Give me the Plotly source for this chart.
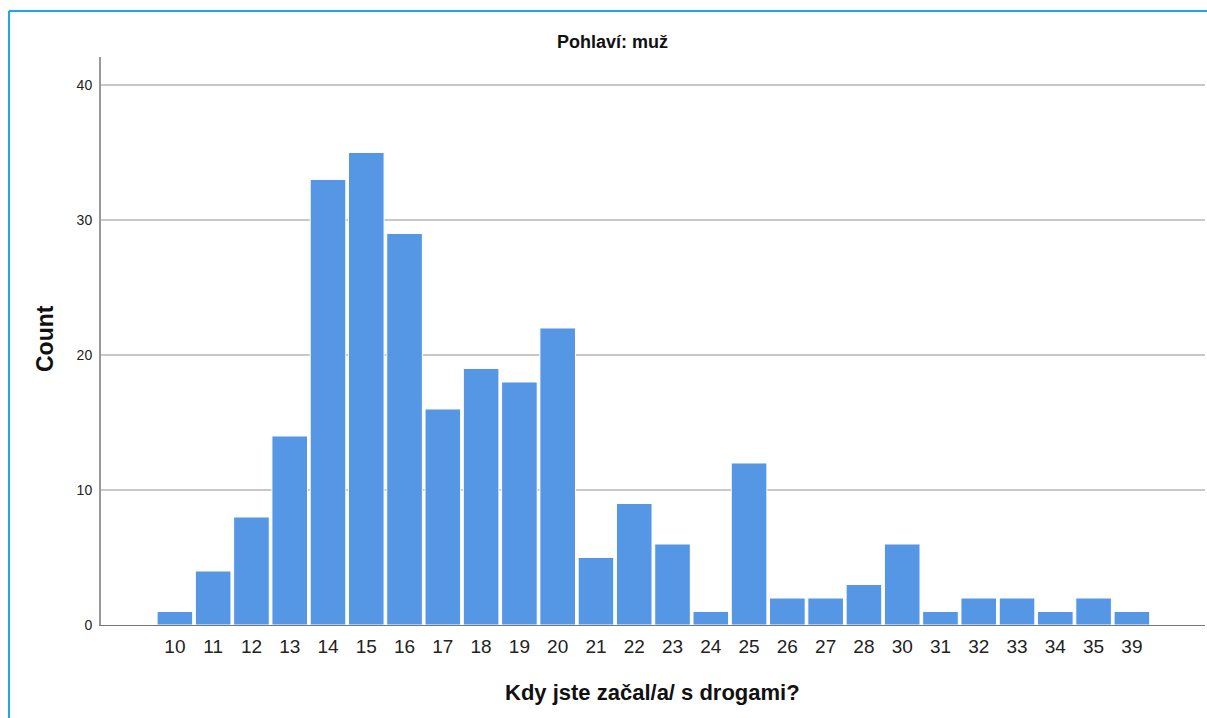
import plotly.graph_objects as go

categories = ["10", "11", "12", "13", "14", "15", "16", "17", "18", "19", "20",
              "21", "22", "23", "24", "25", "26", "27", "28", "30", "31", "32",
              "33", "34", "35", "39"]
counts = [1, 4, 8, 14, 33, 35, 29, 16, 19, 18, 22, 5, 9, 6, 1, 12, 2, 2, 3, 6,
          1, 2, 2, 1, 2, 1]
y_ticks = [0, 10, 20, 30, 40]

W, H = 1207, 718
L, R, T, B = 101, 1205, 57, 625
PW, PH = R - L, B - T


def px_x(x):
    return (x - L) / PW


def px_y(y):
    return (B - y) / PH


fig = go.Figure(go.Bar(
    x=categories, y=counts,
    marker=dict(color="#5596E5", line=dict(color="white", width=1)),
))

n = len(categories)
fig.update_layout(
    width=W, height=H,
    margin=dict(l=L, r=W - R, t=T, b=H - B),
    paper_bgcolor="white", plot_bgcolor="white",
    bargap=0.07,
    showlegend=False,
    font=dict(family="Liberation Sans, Arial, sans-serif", color="#222"),
    xaxis=dict(type="category", range=[-1.93, n - 1 + 1.91],
               showgrid=False, showline=True, linecolor="#777", linewidth=1,
               ticks="", tickfont=dict(size=19, color="#222"),
               ticklabelstandoff=4),
    yaxis=dict(range=[0, 42.07], tickvals=y_ticks, showgrid=True,
               gridcolor="#c8c8c8", gridwidth=1.5, zeroline=False,
               showline=True, linecolor="#999", linewidth=2, ticks="",
               tickfont=dict(size=14, color="#222"), ticklabelstandoff=4),
    annotations=[
        dict(text="<b>Pohlaví: muž</b>", xref="paper", yref="paper",
             x=px_x(612), y=px_y(42), xanchor="center", yanchor="middle",
             showarrow=False, font=dict(size=18, color="#111")),
        dict(text="<b>Kdy jste začal/a/ s drogami?</b>", xref="paper", yref="paper",
             x=px_x(652), y=px_y(692), xanchor="center", yanchor="middle",
             showarrow=False, font=dict(size=22, color="#111")),
        dict(text="<b>Count</b>", xref="paper", yref="paper", textangle=-90,
             x=px_x(45), y=px_y(339), xanchor="center", yanchor="middle",
             showarrow=False, font=dict(size=23, color="#111")),
    ],
    shapes=[
        dict(type="line", xref="paper", yref="paper",
             x0=px_x(9), x1=px_x(1215), y0=px_y(11), y1=px_y(11),
             line=dict(color="#19A9EC", width=2)),
        dict(type="line", xref="paper", yref="paper",
             x0=px_x(9), x1=px_x(9), y0=px_y(11), y1=px_y(730),
             line=dict(color="#19A9EC", width=2)),
    ],
)

fig.write_html("out.html", config={"displayModeBar": False},
               post_script="document.body.style.margin='0';document.body.style.overflow='hidden';")
